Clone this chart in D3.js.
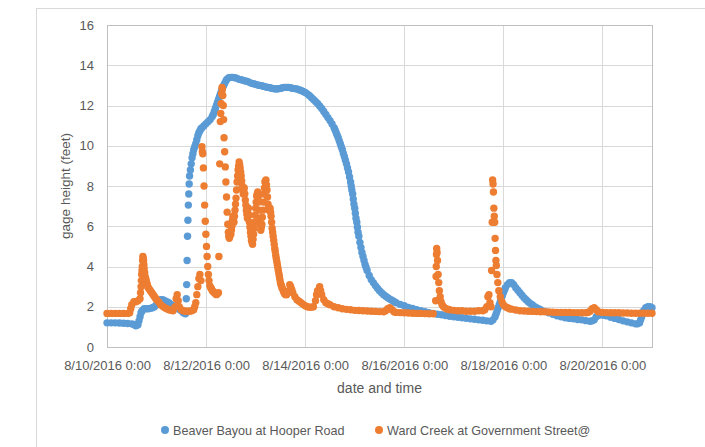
<!DOCTYPE html>
<html lang="en">
<head>
    <meta charset="UTF-8">
    <title>Gage height</title>
    <script src="https://d3js.org/d3.v7.min.js"></script>
</head>

<style>
    body{
        margin: 0;
        background: white;
    }
    text {
        font-family: "Liberation Sans", Arial, sans-serif;
        fill: #595959;
    }
</style>
<body>

    <svg id = "chart"></svg>

    <script>
    //Data (hours after 8/10/2016 0:00, gage height in feet)
        const seriesNames = ["Beaver Bayou at Hooper Road", "Ward Creek at Government Street@"];
        const seriesColors = ["#5b9bd5", "#ed7d31"];
        const yTicks = [0, 2, 4, 6, 8, 10, 12, 14, 16];
        const xTickDays = [10, 12, 14, 16, 18, 20];

        const beaverBayou = [
            [0,1.2],[2,1.2],[4,1.2],[6,1.19],[8,1.18],[10,1.17],[12,1.15],[13,1.12],[14,1.05],[15,1.1],[15.5,1.3],[16,1.5],[16.5,1.7],[17,1.8],[18,1.9],[19,1.9],[20,1.9],[21,1.92],[22,1.95],[23,2.0],[24,2.1],[25,2.25],[26,2.35],[27,2.35],[28,2.3],[29,2.25],[30,2.2],[31,2.12],[32,2.05],[33,2.0],[34,1.95],[35,1.87],[36,1.8],[37,1.7],[38,1.65],
            [38.4,2.4],[38.6,3.1],[38.8,4.3],[39,5.5],[39.2,6.3],[39.4,7.05],[39.6,7.6],[39.8,8.1],[40,8.5],[40.4,8.8],[40.8,9.1],[41.2,9.4],[41.6,9.6],[42,9.8],[42.5,9.95],[43,10.1],[43.5,10.3],[44,10.5],[44.5,10.65],[45,10.75],[45.5,10.85],[46,10.9],[47,11.0],[48,11.1],[49,11.2],[50,11.3],[51,11.45],[51.5,11.55],[52,11.7],[52.5,11.85],[53,12.0],[53.5,12.15],[54,12.3],[54.5,12.45],[55,12.6],[55.5,12.75],[56,12.9],[56.5,13.0],[57,13.1],[57.5,13.2],[58,13.3],[59,13.38],[60,13.4],
            [61,13.4],[62,13.38],[63,13.35],[64,13.3],[65,13.28],[66,13.25],[67,13.22],[68,13.2],[69,13.15],[70,13.1],[71,13.08],[72,13.05],[73,13.02],[74,13.0],[75,12.98],[76,12.95],[77,12.92],[78,12.9],[79,12.88],[80,12.85],[81,12.83],[82,12.82],[83,12.83],[84,12.85],[85,12.88],[86,12.9],[87,12.9],[88,12.9],[89,12.88],[90,12.85],[91,12.84],[92,12.82],[93,12.78],[94,12.75],[95,12.7],[96,12.65],[97,12.58],[98,12.5],[99,12.4],[100,12.3],
            [101,12.2],[102,12.1],[103,11.98],[104,11.85],[105,11.7],[106,11.55],[107,11.4],[108,11.25],[109,11.08],[110,10.9],[110.5,10.78],[111,10.65],[111.5,10.52],[112,10.4],[112.5,10.25],[113,10.1],[113.5,9.95],[114,9.8],[114.5,9.62],[115,9.45],[115.5,9.28],[116,9.1],[116.5,8.9],[117,8.7],[117.5,8.45],[118,8.2],[118.3,8.0],[118.6,7.8],[119,7.6],[119.3,7.35],[119.6,7.1],[120,6.9],[120.3,6.65],[120.6,6.4],[121,6.2],[121.3,5.95],[121.6,5.7],[122,5.5],[122.5,5.2],[123,4.95],[123.5,4.7],[124,4.5],[124.5,4.3],[125,4.1],[125.5,3.95],[126,3.8],[127,3.55],[128,3.35],[129,3.2],[130,3.05],[131,2.92],[132,2.8],[133,2.7],[134,2.6],[135,2.52],[136,2.45],[137,2.38],[138,2.32],[139,2.26],[140,2.2],
            [142,2.12],[144,2.05],[146,1.97],[148,1.91],[150,1.85],[152,1.8],[154,1.75],[156,1.71],[158,1.67],[160,1.63],[162,1.6],[164,1.56],[166,1.53],[168,1.5],[170,1.48],[172,1.45],[174,1.43],[176,1.4],[178,1.38],[180,1.35],[182,1.33],[184,1.3],[186,1.28],[187,1.35],[188,1.5],[188.5,1.65],[189,1.8],[189.5,1.95],[190,2.1],[190.5,2.25],[191,2.4],[191.5,2.55],[192,2.7],[192.5,2.82],[193,2.95],[194,3.1],[195,3.2],[196,3.2],[197,3.1],[198,2.95],[199,2.82],[200,2.7],
            [201,2.57],[202,2.45],[203,2.35],[204,2.25],[205,2.17],[206,2.1],[207,2.02],[208,1.95],[209,1.9],[210,1.85],[212,1.77],[214,1.7],[216,1.63],[218,1.55],[220,1.5],[222,1.45],[224,1.42],[226,1.4],[228,1.37],[230,1.35],[232,1.31],[234,1.28],[235,1.3],[236,1.35],[237,1.5],[238,1.58],[239,1.6],[240,1.6],[241,1.58],[242,1.55],[244,1.48],[246,1.42],[248,1.37],[250,1.3],[252,1.25],[254,1.2],[256,1.15],[257,1.15],[258,1.2],[258.5,1.35],[259,1.5],[259.5,1.65],[260,1.8],[261,1.95],[262,2.0],[263,2.0],[264,1.95]
        ];

        const wardCreek = [
            [0,1.67],[2,1.67],[4,1.67],[6,1.67],[8,1.67],[10,1.67],[11,1.7],[11.5,1.9],[12,2.1],[13,2.25],[14,2.25],[15,2.3],[16,2.4],
            [16.25,2.7],[16.5,3.0],[16.65,3.3],[16.8,3.6],[16.95,3.8],[17.1,4.0],[17.25,4.3],[17.4,4.5],[17.55,4.4],[17.7,4.3],[17.85,4.1],[18,3.9],[18.25,3.7],[18.5,3.5],[18.75,3.4],[19,3.3],[19.25,3.2],[19.5,3.1],[19.75,3.0],[20,2.95],[20.5,2.87],[21,2.8],[21.5,2.72],[22,2.65],[22.5,2.57],[23,2.5],[23.5,2.42],[24,2.35],[25,2.25],[26,2.1],[27,2.02],[28,1.95],[29,1.9],[30,1.85],[31,1.82],[32,1.8],[33,2.0],[33.5,2.4],[34,2.6],[34.5,2.3],[35,2.0],[36,1.85],[37,1.8],[38,1.78],[39,1.78],[40,1.78],[41,1.8],[42,1.85],[42.5,2.0],[43,2.2],[43.5,2.6],[44,3.0],[44.5,3.4],[45,3.6],[45.5,3.3],
            [46,9.95],[46.2,9.7],[46.4,9.6],[46.7,8.9],[47,8.0],[47.3,7.05],[47.6,6.25],[47.9,5.6],[48.2,5.0],[48.5,4.5],[48.8,4.0],[49.1,3.6],[49.4,3.3],[49.8,3.05],[50.2,2.95],[50.6,2.9],[51,2.8],[51.5,2.75],[52,2.7],[52.5,2.65],[53,2.6],[53.5,2.65],[54,2.7],
            [54.2,4.5],[54.6,9.1],[54.9,11.2],[55.1,11.6],[55.3,12.1],[55.5,12.6],[55.7,12.9],[55.9,12.8],[56.1,12.5],[56.3,12.0],[56.5,11.3],[56.7,10.4],[57,9.7],[57.3,8.95],[57.6,8.2],[57.9,7.45],[58.2,6.7],[58.5,6.1],[58.8,5.7],
            [59,5.5],[59.25,5.4],[59.5,5.5],[59.75,5.6],[60,5.6],[60.25,5.8],[60.5,6.0],[60.75,6.3],[61,6.5],[61.25,6.3],[61.5,6.2],[61.75,6.5],[62,6.8],[62.25,7.1],[62.5,7.4],[62.75,7.8],[63,8.2],[63.25,8.5],[63.5,8.8],[63.75,9.0],[64,9.2],[64.25,9.05],[64.5,8.9],[64.75,8.7],[65,8.5],[65.25,8.25],[65.5,8.0],[65.75,7.8],[66,7.6],[66.25,7.75],[66.5,7.9],[66.75,7.6],[67,7.3],[67.25,7.05],[67.5,6.8],[67.75,6.6],[68,6.4],[68.25,6.65],[68.5,6.9],[68.75,6.55],[69,6.2],[69.25,5.95],[69.5,5.7],[69.75,5.5],[70,5.3],[70.25,5.2],[70.5,5.1],[70.75,5.35],[71,5.6],[71.25,5.9],[71.5,6.2],[71.75,6.55],[72,6.9],[72.25,7.2],[72.5,7.5],[72.75,7.6],[73,7.7],[73.25,7.45],[73.5,7.2],[73.75,6.8],[74,6.4],[74.25,6.1],[74.5,5.8],[74.75,5.95],[75,6.1],[75.25,6.45],[75.5,6.8],[75.75,7.2],[76,7.6],[76.25,7.9],[76.5,8.2],[76.75,8.25],[77,8.3],[77.25,8.05],[77.5,7.8],[77.75,7.45],[78,7.1],[78.25,6.95],[78.5,6.8],[78.75,6.85],[79,6.9],[79.25,6.7],[79.5,6.5],[79.75,6.2],[80,5.9],[80.25,5.7],[80.5,5.5],[80.75,5.3],[81,5.1],[81.25,4.9],[81.5,4.75],[81.75,4.55],[82,4.4],[82.25,4.25],[82.5,4.1],[82.75,3.95],[83,3.8],[83.25,3.65],[83.5,3.5],[83.75,3.35],[84,3.2],[84.25,3.1],[84.5,3.05],[84.75,2.95],[85,2.9],[85.5,2.75],[86,2.65],[86.5,2.6],[87,2.6],[87.5,2.7],[88,2.8],[88.5,3.1],[89,3.0],[89.5,2.85],[90,2.7],[91,2.5],[92,2.35],[93,2.27],[94,2.2],[95,2.12],[96,2.05],[97,2.0],[98,1.98],[99,1.98],[100,2.0],
            [101,2.3],[101.5,2.6],[102,2.8],[103,3.0],[103.5,2.8],[104,2.6],[105,2.35],[106,2.2],[107,2.15],[108,2.1],[110,2.0],[112,1.95],[114,1.9],[116,1.87],[118,1.85],[120,1.82],[122,1.81],[124,1.8],[126,1.79],[128,1.78],[130,1.77],[132,1.76],[134,1.75],[135,1.8],[136,1.9],[137,1.95],[138,1.85],[139,1.75],[140,1.72],[142,1.71],[144,1.7],[146,1.69],[148,1.68],[150,1.67],[152,1.67],[154,1.66],[156,1.65],[158,1.65],
            [159.2,2.3],[159.4,3.5],[159.5,4.0],[159.6,4.6],[159.7,4.9],[159.9,4.7],[160.1,4.3],[160.4,3.6],[160.7,3.2],[161,2.8],[161.4,2.5],[161.8,2.25],[162.3,2.1],[163,2.0],[164,1.92],[165,1.88],[166,1.85],[168,1.82],[170,1.8],[172,1.8],[174,1.78],[176,1.78],[178,1.78],[180,1.8],[182,1.8],[183,1.85],[184,2.0],[184.5,2.5],[185,2.6],[185.5,2.2],[186,2.0],
            [186.3,3.8],[186.6,6.2],[186.8,8.3],[187,8.1],[187.2,7.7],[187.4,6.9],[187.6,6.5],[187.8,6.2],[188,5.4],[188.2,4.8],[188.4,4.3],[188.6,4.05],[188.9,3.6],[189.3,3.2],[189.8,2.8],[190.5,2.5],[191.3,2.25],[192,2.1],[193,2.0],[194,1.95],[195,1.9],[196,1.88],[198,1.84],[200,1.8],
            [202,1.79],[204,1.78],[206,1.77],[208,1.76],[210,1.75],[212,1.75],[214,1.74],[216,1.73],[218,1.72],[220,1.72],[222,1.72],[224,1.72],[226,1.71],[228,1.71],[230,1.7],[232,1.7],[233,1.72],[234,1.78],[235,1.9],[236,1.95],[237,1.85],[238,1.75],[240,1.72],[242,1.71],[244,1.7],[246,1.7],[248,1.7],[250,1.69],[252,1.69],[254,1.68],[256,1.68],[258,1.68],[260,1.68],[262,1.68],[264,1.68]
        ];

    //Scene
        const width = 705;
        const height = 447;
        const plot = {left: 107, right: 652, top: 25, bottom: 347};
        const startDate = new Date(2016, 7, 10);
        const endDate = new Date(2016, 7, 21);
        const hourMs = 3600 * 1000;

        const svg = d3.select("#chart")
            .attr("width", width)
            .attr("height", height);

        const x = d3.scaleTime()
            .domain([startDate, endDate])
            .range([plot.left, plot.right]);

        const y = d3.scaleLinear()
            .domain([0, 16])
            .range([plot.bottom, plot.top]);

    //Chart area border
        svg.append("rect")
            .attr("x", 36.5).attr("y", 8.5)
            .attr("width", 720).attr("height", 460)
            .attr("fill", "white")
            .attr("stroke", "#d9d9d9");

    //Grid
        const xTicks = xTickDays.map(d => new Date(2016, 7, d));

        svg.append("g")
            .selectAll("line")
            .data(yTicks)
            .join("line")
            .attr("x1", plot.left).attr("x2", plot.right)
            .attr("y1", d => Math.round(y(d)) + .5)
            .attr("y2", d => Math.round(y(d)) + .5)
            .attr("stroke", "#d9d9d9");

        svg.append("g")
            .selectAll("line")
            .data(xTicks)
            .join("line")
            .attr("x1", d => Math.round(x(d)) + .5)
            .attr("x2", d => Math.round(x(d)) + .5)
            .attr("y1", plot.top).attr("y2", plot.bottom)
            .attr("stroke", "#d9d9d9");

        svg.append("rect")
            .attr("x", plot.left + .5).attr("y", Math.round(plot.top) + .5)
            .attr("width", plot.right - plot.left)
            .attr("height", plot.bottom - plot.top)
            .attr("fill", "none")
            .attr("stroke", "#bfbfbf");

    //Axes labels
        const yAxis = svg.append("g")
            .attr("transform", `translate(${plot.left},0)`)
            .call(d3.axisLeft(y).tickValues(yTicks).tickSize(0).tickPadding(13));

        const fmt = d3.timeFormat("%-m/%-d/%Y %-H:%M");
        const xAxis = svg.append("g")
            .attr("transform", `translate(0,${plot.bottom})`)
            .call(d3.axisBottom(x).tickValues(xTicks).tickFormat(fmt).tickSize(0).tickPadding(14));

        [yAxis, xAxis].forEach(g => {
            g.select(".domain").remove();
            g.selectAll("text")
                .attr("fill", "#595959")
                .style("font-family", '"Liberation Sans", Arial, sans-serif')
                .style("font-size", "13px");
        });

        svg.append("text")
            .attr("x", (plot.left + plot.right) / 2)
            .attr("y", 393)
            .attr("text-anchor", "middle")
            .style("font-size", "14px")
            .text("date and time");

        svg.append("text")
            .attr("transform", `translate(70,${(plot.top + plot.bottom) / 2}) rotate(-90)`)
            .attr("text-anchor", "middle")
            .style("font-size", "13.5px")
            .text("gage height (feet)");

    //Markers
        const allSeries = [beaverBayou, wardCreek];

        allSeries.forEach((series, i) => {
            svg.append("g")
                .selectAll("circle")
                .data(series)
                .join("circle")
                .attr("cx", d => x(new Date(startDate.getTime() + d[0] * hourMs)))
                .attr("cy", d => y(d[1]))
                .attr("r", 3.7)
                .attr("fill", seriesColors[i]);
        });

    //Legend
        const legendX = [165, 379];
        const legend = svg.append("g");

        seriesNames.forEach((name, i) => {
            legend.append("circle")
                .attr("cx", legendX[i])
                .attr("cy", 430)
                .attr("r", 4)
                .attr("fill", seriesColors[i]);

            legend.append("text")
                .attr("x", legendX[i] + 8)
                .attr("y", 434.5)
                .style("font-size", "12.6px")
                .text(name);
        });

    </script>
</body>
</html>
